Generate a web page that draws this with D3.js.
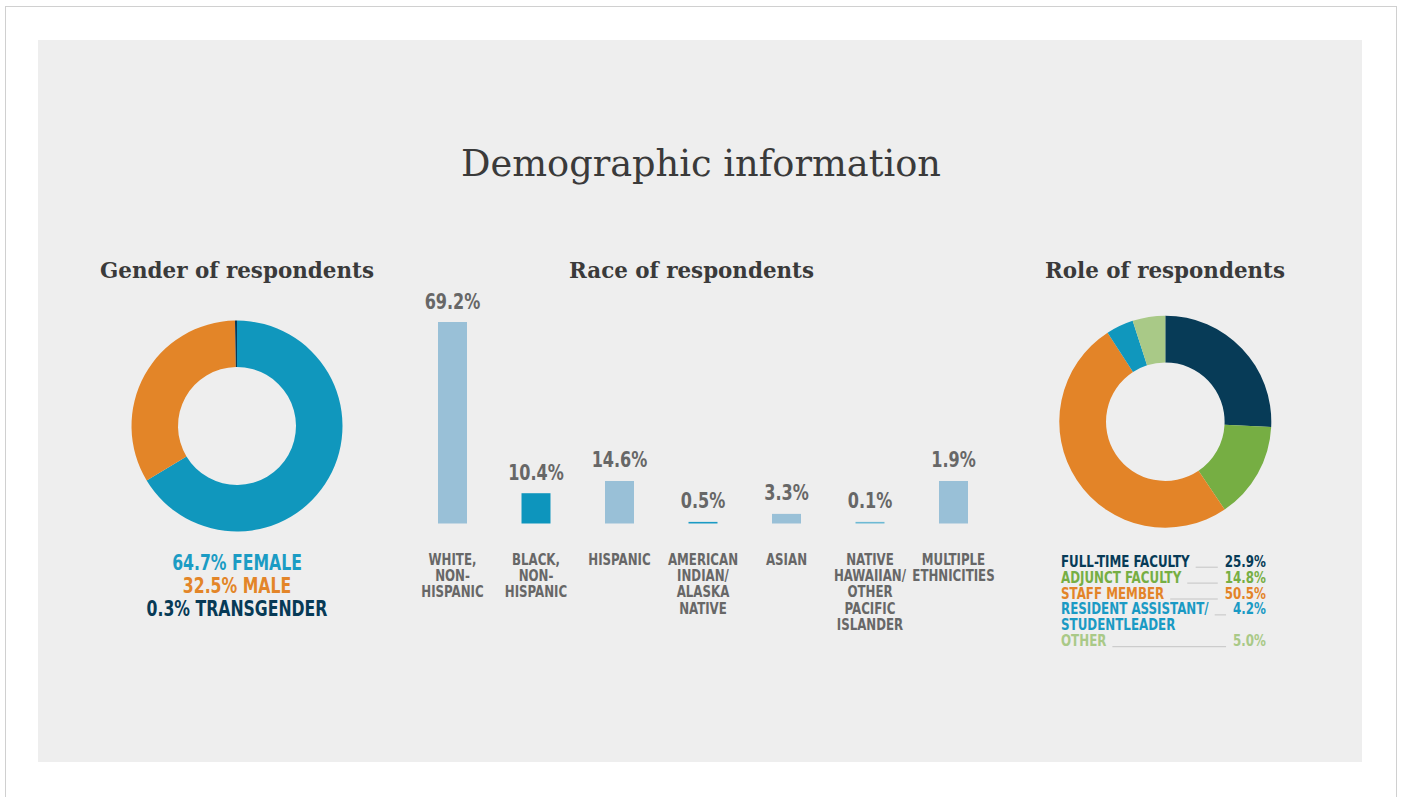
<!DOCTYPE html>
<html>
<head>
<meta charset="utf-8">
<script src="https://cdn.jsdelivr.net/npm/d3@7/dist/d3.min.js"></script>
<style>
  html, body { margin: 0; padding: 0; background: #ffffff; }
  svg { display: block; }
  .serif { font-family: "DejaVu Serif Condensed", "DejaVu Serif", serif; fill: #3a3a3a; }
  .cond { font-family: "Liberation Sans Narrow", "DejaVu Sans Condensed", "Roboto", sans-serif; font-weight: bold; }
</style>
</head>
<body>
<svg id="chart" width="1401" height="797"></svg>
<script>
// ---------- data ----------
const titleText = "Demographic information";

const genderLabels = ["FEMALE", "MALE", "TRANSGENDER"];
const genderValues = [64.7, 32.5, 0.3];
const genderColors = ["#1097bd", "#e38528", "#073a56"];
const genderTextColors = ["#1b9cc4", "#e38528", "#073a56"];

const raceCategories = [
  ["WHITE,", "NON-", "HISPANIC"],
  ["BLACK,", "NON-", "HISPANIC"],
  ["HISPANIC"],
  ["AMERICAN", "INDIAN/", "ALASKA", "NATIVE"],
  ["ASIAN"],
  ["NATIVE", "HAWAIIAN/", "OTHER", "PACIFIC", "ISLANDER"],
  ["MULTIPLE", "ETHNICITIES"]
];
const raceValues = [69.2, 10.4, 14.6, 0.5, 3.3, 0.1, 1.9];        // printed labels
const raceBarHeights = [69.2, 10.4, 14.6, 0.5, 3.3, 0.1, 14.6];    // bar heights as drawn in the picture
const raceColors = ["#99c0d7", "#0d95bd", "#99c0d7", "#1a9ac4", "#99c0d7", "#6db9d4", "#99c0d7"];

const roleLabels = [["FULL-TIME FACULTY"], ["ADJUNCT FACULTY"], ["STAFF MEMBER"], ["RESIDENT ASSISTANT/", "STUDENTLEADER"], ["OTHER"]];
const roleValues = [25.9, 14.8, 50.5, 4.2, 5.0];
const roleColors = ["#073b57", "#76ae43", "#e38428", "#1097bd", "#a9c987"];
const roleTextColors = ["#073b57", "#76ae43", "#e38428", "#1a9ac4", "#a9c987"];

// narrow the condensed sans text horizontally (no condensed grotesque available offline)
function squeeze(sel, k) {
  sel.each(function () {
    const w = this.getComputedTextLength();
    d3.select(this).attr("textLength", w * k).attr("lengthAdjust", "spacingAndGlyphs");
  });
  return sel;
}
function fitWidth(sel, w) {
  sel.attr("textLength", w).attr("lengthAdjust", "spacingAndGlyphs");
  return sel;
}

// ---------- frame ----------
const svg = d3.select("#chart");
svg.append("rect").attr("x", 5.5).attr("y", 6.5).attr("width", 1391).attr("height", 800)
  .attr("fill", "#ffffff").attr("stroke", "#d0d0d0").attr("stroke-width", 1);
svg.append("rect").attr("x", 38).attr("y", 40).attr("width", 1324).attr("height", 722).attr("fill", "#eeeeee");

fitWidth(svg.append("text").attr("class", "serif").attr("x", 701).attr("y", 176)
  .attr("text-anchor", "middle").attr("font-size", 38).text(titleText), 480);

const subtitles = [["Gender of respondents", 237, 274], ["Race of respondents", 691.5, 245], ["Role of respondents", 1165, 240]];
subtitles.forEach(s => {
  fitWidth(svg.append("text").attr("class", "serif").attr("x", s[1]).attr("y", 278)
    .attr("text-anchor", "middle").attr("font-size", 23).attr("font-weight", "bold").text(s[0]), s[2]);
});

// ---------- gender donut ----------
const pie = d3.pie().sort(null).value(d => d);
const gArc = d3.arc().innerRadius(59).outerRadius(105.5);
const gG = svg.append("g").attr("transform", "translate(237,426)");
gG.selectAll("path").data(pie(genderValues)).join("path")
  .attr("d", gArc).attr("fill", (d, i) => genderColors[i]);

squeeze(svg.selectAll(".glab").data(genderLabels).join("text")
  .attr("class", "cond glab").attr("x", 237).attr("y", (d, i) => 569.5 + i * 23.3)
  .attr("text-anchor", "middle").attr("font-size", 21)
  .attr("fill", (d, i) => genderTextColors[i])
  .text((d, i) => genderValues[i].toFixed(1) + "% " + d), 0.83);

// ---------- race bars ----------
const x = d3.scaleBand().domain(d3.range(raceValues.length)).range([410.75, 995.25])
  .paddingInner(0.653).paddingOuter(0.3265);
const y = d3.scaleLinear().domain([0, 69.2]).range([523.5, 322]);
const minH = 1.6;
const barTop = i => Math.min(y(raceBarHeights[i]), y(0) - minH);
const cx = i => x(i) + x.bandwidth() / 2;

svg.selectAll(".bar").data(raceBarHeights).join("rect")
  .attr("class", "bar").attr("x", (d, i) => x(i)).attr("width", x.bandwidth())
  .attr("y", (d, i) => barTop(i)).attr("height", (d, i) => y(0) - barTop(i))
  .attr("fill", (d, i) => raceColors[i]);

squeeze(svg.selectAll(".val").data(raceValues).join("text")
  .attr("class", "cond val").attr("x", (d, i) => cx(i))
  .attr("y", (d, i) => barTop(i) - 13.5).attr("text-anchor", "middle")
  .attr("font-size", 21).attr("fill", "#676767").text(d => d.toFixed(1) + "%"), 0.85);

raceCategories.forEach((lines, i) => {
  lines.forEach((ln, j) => {
    squeeze(svg.append("text").attr("class", "cond").attr("text-anchor", "middle")
      .attr("font-size", 16).attr("fill", "#676767")
      .attr("x", cx(i)).attr("y", 565 + j * 16.2).text(ln), 0.82);
  });
});

// ---------- role donut ----------
const rArc = d3.arc().innerRadius(59.3).outerRadius(106);
const rG = svg.append("g").attr("transform", "translate(1165.3,421.7)");
rG.selectAll("path").data(pie(roleValues)).join("path")
  .attr("d", rArc).attr("fill", (d, i) => roleColors[i]);

// legend
const legLeft = 1061, legRight = 1266, rowH = 15.9, legTop = 566.7, legK = 0.88;
let row = 0;
roleLabels.forEach((lines, i) => {
  const yb = legTop + row * rowH;
  let firstW = 0;
  lines.forEach((ln, j) => {
    const t = svg.append("text").attr("class", "cond").attr("font-size", 15)
      .attr("fill", roleTextColors[i]).attr("x", legLeft).attr("y", yb + j * rowH).text(ln);
    const w = t.node().getComputedTextLength() * legK;
    fitWidth(t, w);
    if (j === 0) firstW = w;
  });
  const val = svg.append("text").attr("class", "cond").attr("font-size", 15)
    .attr("fill", roleTextColors[i]).attr("x", legRight).attr("y", yb)
    .attr("text-anchor", "end").text(roleValues[i].toFixed(1) + "%");
  const valW = val.node().getComputedTextLength() * legK;
  fitWidth(val, valW);
  svg.append("line").attr("x1", legLeft + firstW + 6).attr("x2", legRight - valW - 7)
    .attr("y1", yb + 0.5).attr("y2", yb + 0.5).attr("stroke", "#c4c4c4").attr("stroke-width", 1);
  row += lines.length;
});
</script>
</body>
</html>
